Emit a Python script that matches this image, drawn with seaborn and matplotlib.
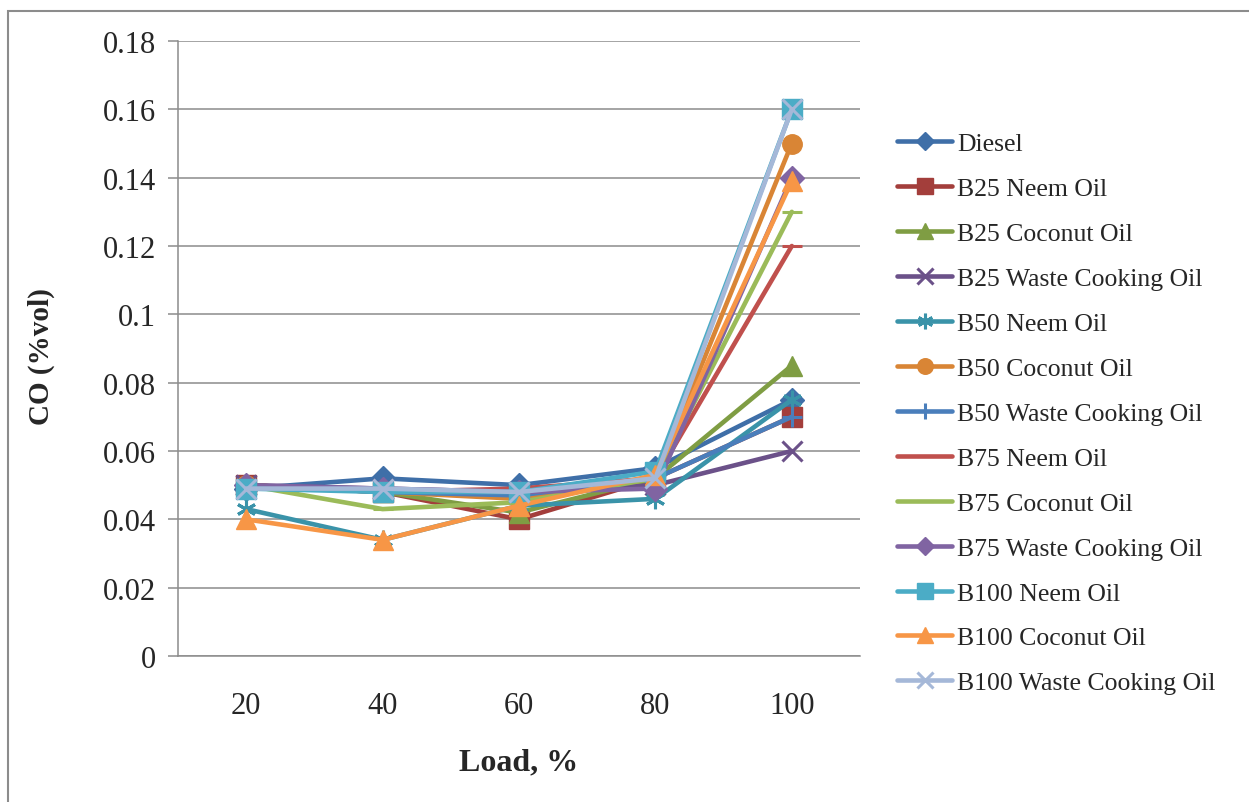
import matplotlib
matplotlib.use("Agg")
import matplotlib.pyplot as plt
from matplotlib.patches import Rectangle
from matplotlib.ticker import FuncFormatter
import seaborn as sns
import pandas as pd

loads = [20, 40, 60, 80, 100]
series_names = [
    "Diesel", "B25 Neem Oil", "B25 Coconut Oil", "B25 Waste Cooking Oil",
    "B50 Neem Oil", "B50 Coconut Oil", "B50 Waste Cooking Oil",
    "B75 Neem Oil", "B75 Coconut Oil", "B75 Waste Cooking Oil",
    "B100 Neem Oil", "B100 Coconut Oil", "B100 Waste Cooking Oil",
]
diesel = [0.049, 0.052, 0.050, 0.055, 0.075]
b25_neem = [0.050, 0.048, 0.040, 0.052, 0.070]
b25_coconut = [0.050, 0.048, 0.042, 0.052, 0.085]
b25_waste = [0.050, 0.049, 0.048, 0.050, 0.060]
b50_neem = [0.043, 0.034, 0.044, 0.046, 0.075]
b50_coconut = [0.050, 0.048, 0.046, 0.052, 0.150]
b50_waste = [0.050, 0.048, 0.047, 0.052, 0.070]
b75_neem = [0.050, 0.048, 0.049, 0.052, 0.120]
b75_coconut = [0.050, 0.043, 0.045, 0.052, 0.130]
b75_waste = [0.050, 0.049, 0.048, 0.049, 0.140]
b100_neem = [0.049, 0.048, 0.048, 0.054, 0.160]
b100_coconut = [0.040, 0.034, 0.044, 0.053, 0.139]
b100_waste = [0.049, 0.049, 0.048, 0.052, 0.160]
all_values = [diesel, b25_neem, b25_coconut, b25_waste, b50_neem, b50_coconut,
              b50_waste, b75_neem, b75_coconut, b75_waste, b100_neem,
              b100_coconut, b100_waste]

colors = ["#3F6FA8", "#A33E3B", "#7F9D43", "#6B5189", "#3A93A9", "#D98535",
          "#4A7EBB", "#C0504D", "#9BBB59", "#8064A2", "#4BACC6", "#F79646",
          "#A5B8D8"]
markers = ["D", "s", "^", "x", (6, 2, 0), "o", "+", "_", "_", "D", "s", "^", "x"]

rows = []
for name, vals in zip(series_names, all_values):
    for l, v in zip(loads, vals):
        rows.append({"Load": l, "CO": v, "Fuel": name})
df = pd.DataFrame(rows)

sns.set_style("white")
plt.rcParams["font.family"] = ["Liberation Serif", "DejaVu Serif"]

fig = plt.figure(figsize=(12.49, 8.03), dpi=100)
ax = fig.add_axes([178 / 1249, 1 - 657 / 803, (860 - 178) / 1249, (657 - 42) / 803])

filled = {"D", "s", "^", "o"}
for name, col, mk in zip(series_names, colors, markers):
    sub = df[df["Fuel"] == name]
    is_filled = mk in filled
    ms = 14
    if mk == "D":
        ms = 12
    elif mk == "_":
        ms = 14
    elif mk in ("x", "+"):
        ms = 14
    kw = dict(marker=mk, markersize=ms, color=col, linewidth=3.3,
              markeredgecolor=col, markerfacecolor=col,
              markeredgewidth=(1.0 if is_filled else 2.2))
    sns.lineplot(data=sub, x="Load", y="CO", ax=ax, label=name, **kw)

ax.set_xlim(10, 110)
ax.set_ylim(0, 0.18)
ax.set_xticks(loads)
ax.set_xticklabels([str(l) for l in loads])
ax.set_yticks([i * 0.02 for i in range(10)])
ax.yaxis.set_major_formatter(FuncFormatter(lambda v, p: f"{round(v, 2):g}"))
ax.grid(axis="y", color="#8c8c8c", linewidth=1.1)
ax.grid(axis="x", visible=False)
for s in ["top", "right"]:
    ax.spines[s].set_visible(False)
ax.spines["left"].set_color("#8c8c8c")
ax.spines["bottom"].set_color("#8c8c8c")
ax.spines["left"].set_linewidth(1.1)
ax.spines["bottom"].set_linewidth(1.1)
ax.tick_params(axis="y", which="major", left=True, length=7, direction="out",
               color="#8c8c8c", width=1.1, labelsize=22, pad=9)
ax.tick_params(axis="x", which="major", bottom=False, labelsize=22, pad=22)
ax.set_xlabel("Load, %", fontsize=23, fontweight="bold")
ax.set_ylabel("CO (%vol)", fontsize=21, fontweight="bold")
ax.xaxis.set_label_coords(0.5, -0.148)
ax.yaxis.set_label_coords(-0.18, 0.489)

leg = ax.legend(loc="upper left", bbox_to_anchor=(897 / 1249, 1 - 133 / 803),
                bbox_transform=fig.transFigure, frameon=False, fontsize=18.5,
                handlelength=2.15, handletextpad=0.2, labelspacing=0.855,
                borderaxespad=0, borderpad=0, markerscale=0.8)

fig.patches.append(Rectangle((8 / 1249, -0.1), 1.2, 1 - 12 / 803 + 0.1,
                             transform=fig.transFigure, fill=False,
                             edgecolor="#8c8c8c", linewidth=1.5))

fig.savefig("out.png", dpi=100)
